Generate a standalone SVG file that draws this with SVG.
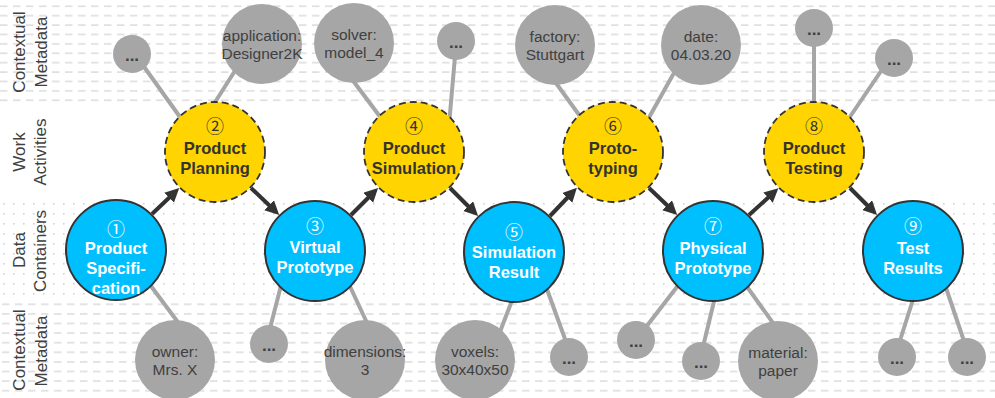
<svg xmlns="http://www.w3.org/2000/svg" width="995" height="398" viewBox="0 0 995 398">
<defs>
<pattern id="dashTop" x="0" y="1.5" width="13" height="9.4" patternUnits="userSpaceOnUse"><rect x="0" y="4" width="7.5" height="1.6" fill="#dedede"/></pattern>
<pattern id="dashBot" x="2" y="299.5" width="13" height="9.6" patternUnits="userSpaceOnUse"><rect x="0" y="4" width="7.5" height="1.6" fill="#dedede"/></pattern>
<pattern id="dots" x="3" y="203" width="10" height="10" patternUnits="userSpaceOnUse"><rect x="0" y="0" width="1.6" height="1.6" fill="#d2d2d2"/></pattern>
<marker id="ah" markerUnits="userSpaceOnUse" markerWidth="15" markerHeight="15" refX="4" refY="7" orient="auto"><path d="M0,0 L14,7 L0,14 z" fill="#333"/></marker>
</defs>
<style>
.lbl{font-family:"Liberation Sans",Arial,sans-serif;font-size:17px;fill:#404040;text-anchor:middle}
.meta{fill:#a6a6a6}
.mt{font-family:"Liberation Sans",Arial,sans-serif;font-size:15.5px;fill:#404040;text-anchor:middle}
.dots{font-family:"Liberation Sans",Arial,sans-serif;font-size:17px;font-weight:bold;fill:#404040;text-anchor:middle}
.act{fill:#ffd400;stroke:#333;stroke-width:1.8;stroke-dasharray:7 4}
.dat{fill:#00bfff;stroke:#333;stroke-width:2}
.at{font-family:"Liberation Sans",Arial,sans-serif;font-size:16.5px;font-weight:bold;fill:#333;text-anchor:middle}
.dt{font-family:"Liberation Sans",Arial,sans-serif;font-size:16.5px;font-weight:bold;fill:#fff;text-anchor:middle}
.num{font-family:"Noto Sans CJK JP","DejaVu Sans",sans-serif;font-size:18px;text-anchor:middle}
.link{stroke:#a6a6a6;stroke-width:4;fill:none}
.flow{stroke:#333;stroke-width:4;fill:none;marker-end:url(#ah)}
</style>

<g id="background">
<rect x="0" y="0" width="995" height="104" fill="url(#dashTop)"/>
<rect x="0" y="200" width="995" height="100" fill="url(#dots)"/>
<rect x="0" y="300" width="995" height="98" fill="url(#dashBot)"/>
</g>

<g id="lane-labels">
<text class="lbl" transform="translate(25,52) rotate(-90)">Contextual</text>
<text class="lbl" transform="translate(47,52) rotate(-90)">Metadata</text>
<text class="lbl" transform="translate(25,152) rotate(-90)">Work</text>
<text class="lbl" transform="translate(46,152) rotate(-90)">Activities</text>
<text class="lbl" transform="translate(25,250) rotate(-90)">Data</text>
<text class="lbl" transform="translate(46,251) rotate(-90)">Containers</text>
<text class="lbl" transform="translate(25,350) rotate(-90)">Contextual</text>
<text class="lbl" transform="translate(47,351) rotate(-90)">Metadata</text>
</g>

<g id="connectors">
<line class="link" x1="132" y1="50" x2="190" y2="131"/>
<line class="link" x1="245" y1="55" x2="205" y2="118"/>
<line class="link" x1="345" y1="70" x2="390" y2="130"/>
<line class="link" x1="456" y1="45" x2="449" y2="125"/>
<line class="link" x1="548" y1="72" x2="590" y2="130"/>
<line class="link" x1="684" y1="55" x2="642" y2="130"/>
<line class="link" x1="814" y1="28" x2="814" y2="130"/>
<line class="link" x1="894" y1="52" x2="841" y2="130"/>
<line class="link" x1="145" y1="278" x2="180" y2="325"/>
<line class="link" x1="285" y1="270" x2="267" y2="340"/>
<line class="link" x1="340" y1="265" x2="368" y2="325"/>
<line class="link" x1="516" y1="290" x2="495" y2="345"/>
<line class="link" x1="540" y1="270" x2="569" y2="350"/>
<line class="link" x1="690" y1="270" x2="636" y2="340"/>
<line class="link" x1="718" y1="285" x2="701" y2="355"/>
<line class="link" x1="735" y1="270" x2="778" y2="330"/>
<line class="link" x1="916" y1="290" x2="897" y2="350"/>
<line class="link" x1="940" y1="270" x2="967" y2="350"/>
<line class="flow" x1="152" y1="214" x2="172" y2="195"/>
<line class="flow" x1="251" y1="188" x2="272" y2="208"/>
<line class="flow" x1="351" y1="215" x2="371" y2="195"/>
<line class="flow" x1="450" y1="188" x2="471" y2="209"/>
<line class="flow" x1="550" y1="216" x2="570" y2="195"/>
<line class="flow" x1="649" y1="188" x2="670" y2="208"/>
<line class="flow" x1="749" y1="215" x2="771" y2="195"/>
<line class="flow" x1="850" y1="188" x2="870" y2="208"/>
</g>

<g id="meta-top-1"><circle class="meta" cx="132" cy="54" r="19"/><text class="dots" x="132" y="61">...</text></g>
<g id="meta-top-2"><circle class="meta" cx="262" cy="44" r="40"/><text class="mt" x="262" y="41">application:</text><text class="mt" x="262" y="59">Designer2K</text></g>
<g id="meta-top-3"><circle class="meta" cx="354" cy="43" r="40"/><text class="mt" x="354" y="40">solver:</text><text class="mt" x="354" y="58">model_4</text></g>
<g id="meta-top-4"><circle class="meta" cx="456" cy="41" r="19"/><text class="dots" x="456" y="48">...</text></g>
<g id="meta-top-5"><circle class="meta" cx="555" cy="45" r="40"/><text class="mt" x="555" y="42">factory:</text><text class="mt" x="555" y="60">Stuttgart</text></g>
<g id="meta-top-6"><circle class="meta" cx="701" cy="45" r="40"/><text class="mt" x="701" y="42">date:</text><text class="mt" x="701" y="60">04.03.20</text></g>
<g id="meta-top-7"><circle class="meta" cx="814" cy="28" r="19"/><text class="dots" x="814" y="35">...</text></g>
<g id="meta-top-8"><circle class="meta" cx="894" cy="58" r="19"/><text class="dots" x="894" y="65">...</text></g>

<g id="meta-bot-1"><circle class="meta" cx="175" cy="360" r="40"/><text class="mt" x="175" y="357">owner:</text><text class="mt" x="175" y="375">Mrs. X</text></g>
<g id="meta-bot-2"><circle class="meta" cx="269" cy="344" r="19"/><text class="dots" x="269" y="351">...</text></g>
<g id="meta-bot-3"><circle class="meta" cx="365" cy="360" r="40"/><text class="mt" x="365" y="357">dimensions:</text><text class="mt" x="365" y="375">3</text></g>
<g id="meta-bot-4"><circle class="meta" cx="475" cy="360" r="40"/><text class="mt" x="475" y="357">voxels:</text><text class="mt" x="475" y="375">30x40x50</text></g>
<g id="meta-bot-5"><circle class="meta" cx="569" cy="357" r="19"/><text class="dots" x="569" y="364">...</text></g>
<g id="meta-bot-6"><circle class="meta" cx="636" cy="340" r="19"/><text class="dots" x="636" y="347">...</text></g>
<g id="meta-bot-7"><circle class="meta" cx="701" cy="361" r="19"/><text class="dots" x="701" y="368">...</text></g>
<g id="meta-bot-8"><circle class="meta" cx="778" cy="361" r="40"/><text class="mt" x="778" y="358">material:</text><text class="mt" x="778" y="376">paper</text></g>
<g id="meta-bot-9"><circle class="meta" cx="897" cy="357" r="19"/><text class="dots" x="897" y="364">...</text></g>
<g id="meta-bot-10"><circle class="meta" cx="967" cy="357" r="19"/><text class="dots" x="967" y="364">...</text></g>

<g id="node-1"><circle class="dat" cx="116" cy="250" r="50"/><text class="num" x="116" y="236" fill="#fff">①</text><text class="dt" x="116" y="254">Product</text><text class="dt" x="116" y="274">Specifi-</text><text class="dt" x="116" y="294">cation</text></g>
<g id="node-2"><circle class="act" cx="215" cy="152" r="50"/><text class="num" x="215" y="133" fill="#333">②</text><text class="at" x="215" y="154">Product</text><text class="at" x="215" y="174">Planning</text></g>
<g id="node-3"><circle class="dat" cx="315" cy="251" r="50"/><text class="num" x="315" y="233" fill="#fff">③</text><text class="dt" x="315" y="253">Virtual</text><text class="dt" x="315" y="273">Prototype</text></g>
<g id="node-4"><circle class="act" cx="414" cy="152" r="50"/><text class="num" x="414" y="133" fill="#333">④</text><text class="at" x="414" y="154">Product</text><text class="at" x="414" y="174">Simulation</text></g>
<g id="node-5"><circle class="dat" cx="514" cy="252" r="50"/><text class="num" x="514" y="239" fill="#fff">⑤</text><text class="dt" x="514" y="258">Simulation</text><text class="dt" x="514" y="278">Result</text></g>
<g id="node-6"><circle class="act" cx="613" cy="152" r="50"/><text class="num" x="613" y="133" fill="#333">⑥</text><text class="at" x="613" y="154">Proto-</text><text class="at" x="613" y="174">typing</text></g>
<g id="node-7"><circle class="dat" cx="713" cy="251" r="50"/><text class="num" x="713" y="233" fill="#fff">⑦</text><text class="dt" x="713" y="254">Physical</text><text class="dt" x="713" y="274">Prototype</text></g>
<g id="node-8"><circle class="act" cx="814" cy="152" r="50"/><text class="num" x="814" y="133" fill="#333">⑧</text><text class="at" x="814" y="154">Product</text><text class="at" x="814" y="174">Testing</text></g>
<g id="node-9"><circle class="dat" cx="913" cy="251" r="50"/><text class="num" x="913" y="233" fill="#fff">⑨</text><text class="dt" x="913" y="254">Test</text><text class="dt" x="913" y="274">Results</text></g>
</svg>
